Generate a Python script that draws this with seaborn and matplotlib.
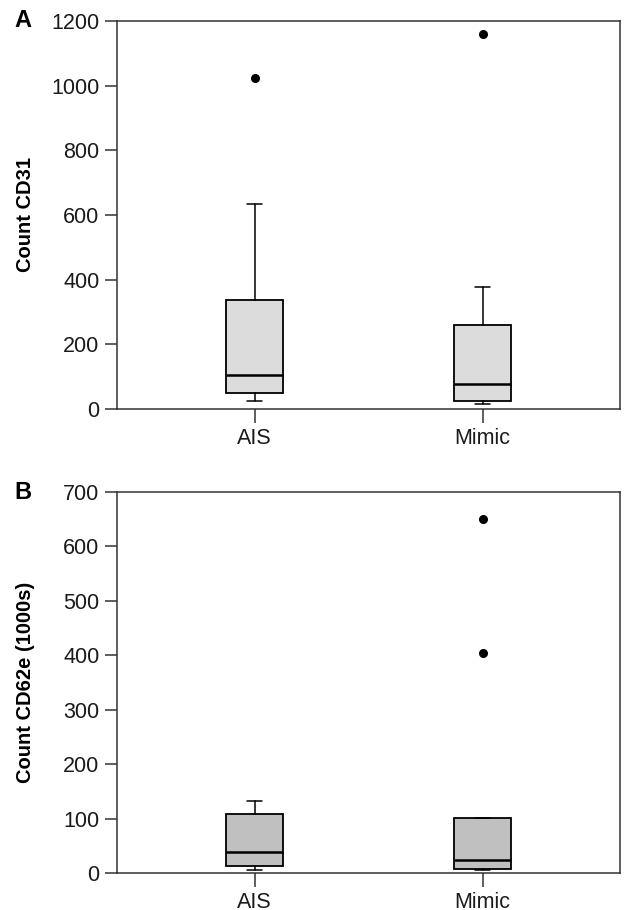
import matplotlib
matplotlib.use("Agg")
import matplotlib.pyplot as plt
import seaborn as sns

# Box statistics (whisker low, Q1, median, Q3, whisker high, outliers)
groups = ["AIS", "Mimic"]

cd31_whislo = [25, 16]
cd31_q1 = [49, 26]
cd31_med = [104, 77]
cd31_q3 = [337, 261]
cd31_whishi = [634, 377]
cd31_fliers = [[1025], [1160]]

cd62e_whislo = [6, 5]
cd62e_q1 = [12, 8]
cd62e_med = [38, 24]
cd62e_q3 = [109, 101]
cd62e_whishi = [132, 101]
cd62e_fliers = [[], [650, 405]]


def build_stats(lo, q1, med, q3, hi, fliers):
    return [dict(label=g, whislo=lo[i], q1=q1[i], med=med[i], q3=q3[i],
                 whishi=hi[i], fliers=fliers[i]) for i, g in enumerate(groups)]


def draw_panel(ax, stats, color, ylabel, ymax, ystep, letter):
    ax.bxp(stats, positions=range(len(groups)), widths=0.25, patch_artist=True,
           showfliers=True,
           boxprops=dict(facecolor=color, edgecolor="black", linewidth=1.3),
           medianprops=dict(color="black", linewidth=1.8),
           whiskerprops=dict(color="black", linewidth=1.1),
           capprops=dict(color="black", linewidth=1.1),
           capwidths=0.065,
           flierprops=dict(marker="o", markerfacecolor="black",
                           markeredgecolor="black", markersize=5.5))
    ax.set_xlim(-0.605, 1.602)
    ax.set_ylim(0, ymax)
    ax.set_yticks(range(0, ymax + 1, ystep))
    ax.set_xticks(range(len(groups)))
    ax.set_xticklabels(groups)
    ax.set_ylabel(ylabel, fontsize=14.5, fontweight="bold", color="black")
    ax.yaxis.set_label_coords(-0.163, 0.5)
    ax.tick_params(axis="both", direction="out", length=9, width=1.1,
                   labelsize=15.5, colors="#1a1a1a", color="#333333")
    ax.tick_params(axis="x", length=10, pad=4)
    for s in ax.spines.values():
        s.set_linewidth(1.1)
        s.set_color("#333333")
    ax.text(-0.203, 1.0, letter, transform=ax.transAxes, fontsize=17,
            fontweight="bold", va="center", ha="left", color="black")


sns.set_theme(style="ticks")
plt.rcParams["font.family"] = ["Liberation Sans", "DejaVu Sans"]

fig = plt.figure(figsize=(6.35, 9.10), dpi=100)
ax_a = fig.add_axes([0.184, 0.5505, 0.792, 0.4265])
ax_b = fig.add_axes([0.184, 0.0407, 0.792, 0.4186])

draw_panel(ax_a, build_stats(cd31_whislo, cd31_q1, cd31_med, cd31_q3, cd31_whishi, cd31_fliers),
           "#dcdcdc", "Count CD31", 1200, 200, "A")
draw_panel(ax_b, build_stats(cd62e_whislo, cd62e_q1, cd62e_med, cd62e_q3, cd62e_whishi, cd62e_fliers),
           "#c0c0c0", "Count CD62e (1000s)", 700, 100, "B")

fig.savefig("out.png", dpi=100)
